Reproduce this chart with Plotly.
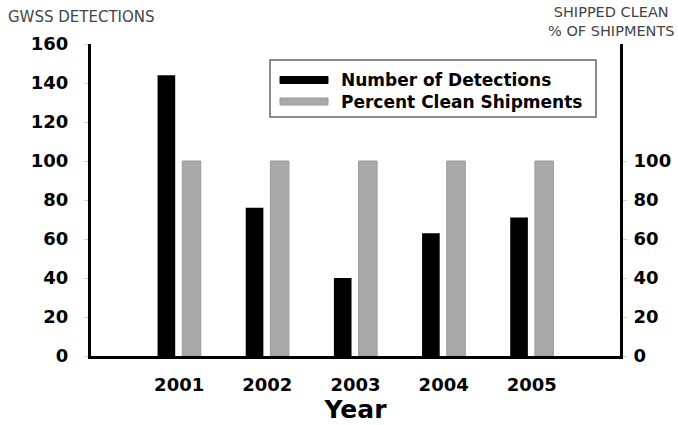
import plotly.graph_objects as go

years = [2001, 2002, 2003, 2004, 2005]
year_labels = ["2001", "2002", "2003", "2004", "2005"]
detections = [144, 76, 40, 63, 71]
percent_clean = [100, 100, 100, 100, 100]
left_ticks = [0, 20, 40, 60, 80, 100, 120, 140, 160]
right_ticks = [0, 20, 40, 60, 80, 100]

FONT = "DejaVu Sans, Liberation Sans, sans-serif"

# plot area in window pixels
PL, PR, PT, PB = 91, 620, 44, 356
W, H = 678, 425

fig = go.Figure()
fig.add_trace(go.Bar(
    x=years, y=detections, name="Number of Detections",
    marker=dict(color="#000000", line=dict(width=0)),
    width=0.2, offset=-0.245, yaxis="y", showlegend=False,
))
fig.add_trace(go.Bar(
    x=years, y=percent_clean, name="Percent Clean Shipments",
    marker=dict(color="#a9a9a9", line=dict(color="#9a9a9a", width=1)),
    width=0.21, offset=0.035, yaxis="y2", showlegend=False,
))

fig.update_layout(
    width=W, height=H,
    margin=dict(l=PL, r=W - PR, t=PT, b=H - PB, autoexpand=False),
    paper_bgcolor="white", plot_bgcolor="white",
    barmode="overlay",
    font=dict(family=FONT, color="#000"),
    xaxis=dict(
        range=[2000, 2006], tickvals=years, ticktext=year_labels,
        showgrid=False, zeroline=False, showline=True, linecolor="#000", linewidth=3,
        ticks="", ticklabelstandoff=10,
        tickfont=dict(size=18, family=FONT, weight="bold"),
        title=dict(text="<b>Year</b>", font=dict(size=25, family=FONT), standoff=4),
    ),
    yaxis=dict(
        range=[0, 160], tickvals=left_ticks,
        showgrid=False, zeroline=False, showline=True, linecolor="#000", linewidth=3,
        ticks="outside", ticklen=4, tickcolor="#d0d0d0", ticklabelstandoff=12,
        tickfont=dict(size=18, family=FONT, weight="bold"),
    ),
    yaxis2=dict(
        range=[0, 160], tickvals=right_ticks, overlaying="y", side="right",
        showgrid=False, zeroline=False, showline=True, linecolor="#000", linewidth=3,
        ticks="outside", ticklen=4, tickcolor="#d0d0d0", ticklabelstandoff=3,
        tickfont=dict(size=18, family=FONT, weight="bold"),
    ),
)


def px_x(px):
    return (px - PL) / (PR - PL)


def px_y(py):
    return (PB - py) / (PB - PT)


# axis titles
fig.add_annotation(text="GWSS DETECTIONS", xref="paper", yref="paper",
                   x=px_x(6), y=px_y(16.5), xanchor="left", yanchor="middle",
                   showarrow=False, font=dict(size=15, color="#444", family=FONT))
fig.add_annotation(text="SHIPPED CLEAN<br>% OF SHIPMENTS", xref="paper", yref="paper",
                   x=px_x(611), y=px_y(21.5), xanchor="center", yanchor="middle", align="center",
                   showarrow=False, font=dict(size=14.5, color="#444", family=FONT))

# legend box
fig.add_shape(type="rect", xref="paper", yref="paper",
              x0=px_x(270), x1=px_x(596), y0=px_y(117), y1=px_y(60),
              line=dict(color="#666", width=1.5), fillcolor="white")
legend_items = [("Number of Detections", "#000000", "#000000", 80),
                ("Percent Clean Shipments", "#a9a9a9", "#9a9a9a", 101.5)]
for label, color, edge, yc in legend_items:
    fig.add_shape(type="rect", xref="paper", yref="paper",
                  x0=px_x(280), x1=px_x(328), y0=px_y(yc + 3.5), y1=px_y(yc - 3.5),
                  line=dict(color=edge, width=1), fillcolor=color)
    fig.add_annotation(text="<b>" + label + "</b>", xref="paper", yref="paper",
                       x=px_x(339), y=px_y(yc), xanchor="left", yanchor="middle",
                       showarrow=False, font=dict(size=17, family=FONT, color="#000"))

fig.write_html("out.html", config={"displayModeBar": False},
               post_script="document.body.style.margin='0';document.body.style.overflow='hidden';")
